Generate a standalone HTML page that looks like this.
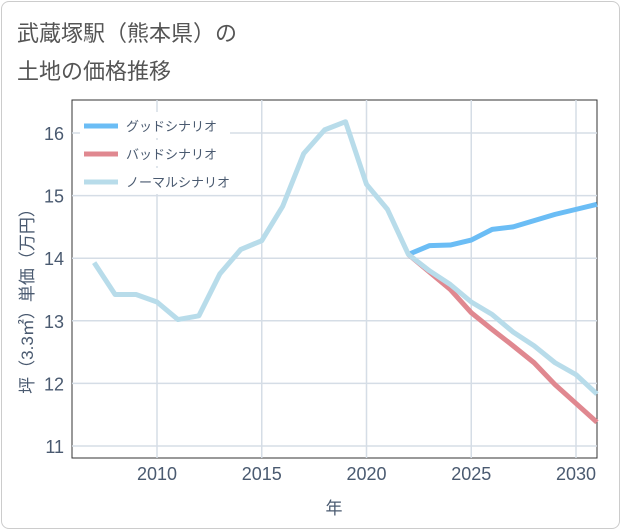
<!DOCTYPE html>
<html><head><meta charset="utf-8"><style>
body{margin:0;background:#fff;font-family:"Liberation Sans","Noto Sans CJK JP",sans-serif;}
#card{position:absolute;left:1px;top:1px;width:617px;height:526px;border:1px solid #ccc;border-radius:8px;background:#fff;}
.t{position:absolute;left:17px;font-size:22px;color:#555;}
</style></head><body>
<div id="card"></div>
<div class="t" style="top:16px">武蔵塚駅（熊本県）の</div>
<div class="t" style="top:54px">土地の価格推移</div>
<svg id="s" width="621" height="530" style="position:absolute;left:0;top:0"></svg>
<script>
const years=[2007,2008,2009,2010,2011,2012,2013,2014,2015,2016,2017,2018,2019,2020,2021,2022,2023,2024,2025,2026,2027,2028,2029,2030,2031];
const normal=[13.93,13.42,13.42,13.3,13.02,13.08,13.75,14.14,14.28,14.83,15.67,16.05,16.18,15.18,14.78,14.06,13.8,13.58,13.3,13.1,12.82,12.6,12.33,12.14,11.83];
const goodYears=[2022,2023,2024,2025,2026,2027,2028,2029,2030,2031];
const good=[14.06,14.2,14.21,14.29,14.46,14.5,14.6,14.7,14.78,14.86];
const bad=[14.06,13.78,13.5,13.13,12.86,12.6,12.33,11.98,11.68,11.38];
const xTicks=[2010,2015,2020,2025,2030];
const yTicks=[11,12,13,14,15,16];
const L=72,R=597,T=100,B=458;
const TXT='#4a5a70';
const x=v=>157+(v-2010)*20.95;
const y=v=>133+(16-v)*62.6;
const s=document.getElementById('s');
const NS='http://www.w3.org/2000/svg';
function mk(t,a,p){const e=document.createElementNS(NS,t);for(const k in a)e.setAttribute(k,a[k]);(p||s).appendChild(e);return e;}
const fr=mk('rect',{x:L,y:T,width:R-L,height:B-T,fill:'#fff',stroke:'#333','stroke-width':1});


yTicks.forEach(v=>{
 const g=mk('line',{x1:L,x2:R,y1:y(v),y2:y(v),stroke:'#d5dde6','stroke-width':1.5});
 
 
 const t=mk('text',{x:L-8,y:y(v)+7,'text-anchor':'end','font-size':18,fill:TXT});
 t.textContent=v;
 
 
});
xTicks.forEach(v=>{
 const g=mk('line',{x1:x(v),x2:x(v),y1:T,y2:B,stroke:'#d5dde6','stroke-width':1.5});
 
 
 const t=mk('text',{x:x(v),y:B+22,'text-anchor':'middle','font-size':18,fill:TXT});
 t.textContent=v;
 
 
});
function line(xs,vs,c,n){
 const p=mk('polyline',{points:xs.map((yr,i)=>x(yr)+','+y(vs[i])).join(' '),fill:'none',stroke:c,'stroke-width':5,'stroke-linejoin':'round'});
 
 
}
line(goodYears,good,'#6bbdf5','good-scenario-line');
line(goodYears,bad,'#e08890','bad-scenario-line');
line(years,normal,'#b8dcea','normal-scenario-line');
const leg=[['グッドシナリオ','#6bbdf5'],['バッドシナリオ','#e08890'],['ノーマルシナリオ','#b8dcea']];
leg.forEach((d,i)=>{
 const yy=126+i*28;
 const b=mk('rect',{x:80,y:112+i*28,width:150,height:26,fill:'#fff'});
 
 
 const l=mk('line',{x1:84,x2:118,y1:yy,y2:yy,stroke:d[1],'stroke-width':5});
 
 
 const t=mk('text',{x:126,y:yy+5,'font-size':13,fill:TXT});
 t.textContent=d[0];
 
 
});
const xt=mk('text',{x:334,y:514,'text-anchor':'middle','font-size':17,fill:TXT});
xt.textContent='年';


const yt=mk('text',{x:0,y:0,'text-anchor':'middle','font-size':17,fill:TXT,transform:'translate(33,297) rotate(-90)'});
yt.textContent='坪（3.3㎡）単価（万円）';


</script>
</body></html>
